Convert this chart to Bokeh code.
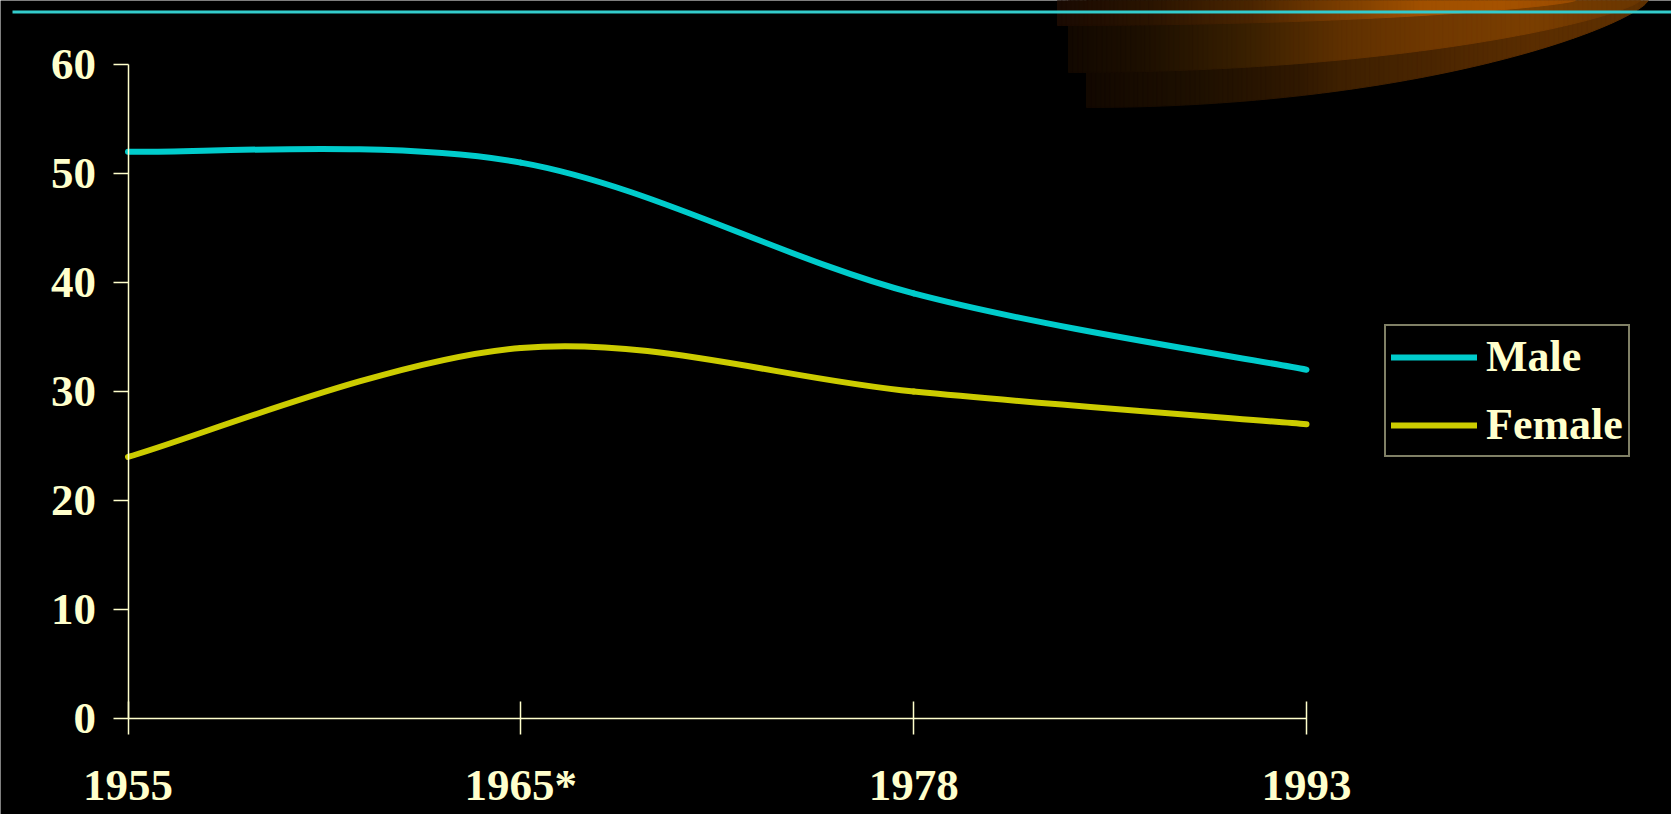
import numpy as np
from bokeh.plotting import figure
from bokeh.models import Range1d, FixedTicker, Legend, LegendItem
from bokeh.embed import file_html
from bokeh.resources import INLINE

# ---- data -----------------------------------------------------------
years = ["1955", "1965*", "1978", "1993"]
male = [52, 51, 39, 32]
female = [24, 34, 30, 27]
y_ticks = [0, 10, 20, 30, 40, 50, 60]

CREAM = "#FFFFCC"
MALE_COLOR = "#00CCCC"
FEMALE_COLOR = "#CCCC00"

# ---- page geometry ----------------------------------------------------
W, H = 1671, 814
X_FIRST, X_LAST = 127.5, 1306.0      # pixel column of first / last category
Y_ZERO, Y_TOP = 718.0, 64.0          # pixel row (from top) of 0 and 60
ux = (X_LAST - X_FIRST) / (len(years) - 1)
uy = (Y_ZERO - Y_TOP) / 60.0

p = figure(
    width=W, height=H,
    x_range=Range1d(-X_FIRST / ux, (len(years) - 1) + (W - X_LAST) / ux),
    y_range=Range1d(-(H - Y_ZERO) / uy, 60 + Y_TOP / uy),
    min_border=0, toolbar_location=None, output_backend="svg",
    background_fill_color="black", border_fill_color="black",
    outline_line_color=None,
)
# pixel coordinate system for the slide decoration
p.extra_x_ranges = {"px": Range1d(0, W)}
p.extra_y_ranges = {"py": Range1d(H, 0)}
p.xgrid.visible = False
p.ygrid.visible = False

# ---- slide decoration: shaded swoosh in the upper right corner ------------
def hex_rgb(h):
    h = h.lstrip("#")
    return tuple(int(h[i:i + 2], 16) for i in (0, 2, 4))

def shade(stops, x):
    xs = [s[0] for s in stops]
    cols = [hex_rgb(s[1]) for s in stops]
    rgb = [int(round(np.interp(x, xs, [c[k] for c in cols]))) for k in range(3)]
    return "#%02x%02x%02x" % tuple(rgb)

bands = [
    # x_left, x_right, depth at left, colour stops
    (1086, 1648, 107, [(1086, "#120800"), (1200, "#1e1000"), (1300, "#301800"),
                       (1340, "#3e2000"), (1430, "#4a2500"), (1530, "#5a2d00"),
                       (1648, "#5e3000")]),
    (1068, 1640, 72, [(1068, "#120800"), (1150, "#1e1000"), (1250, "#3a2000"),
                      (1340, "#5e3000"), (1430, "#703800"), (1530, "#7a3e00"),
                      (1640, "#6a3600")]),
    (1057, 1575, 25, [(1057, "#1a0a02"), (1150, "#2a1400"), (1250, "#4a2500"),
                      (1340, "#7a3d00"), (1420, "#a05000"), (1500, "#a55200"),
                      (1575, "#9a4c00")]),
]
for xl, xr, depth, stops in bands:
    edges = np.linspace(xl, xr, 120)
    u = (edges - xl) / (xr - xl)
    bottom = depth * np.clip(1 - u ** 2, 0, None) ** 0.75
    xs, ys, cs = [], [], []
    for i in range(len(edges) - 1):
        xs.append([edges[i], edges[i + 1], edges[i + 1], edges[i]])
        ys.append([0, 0, bottom[i + 1], bottom[i]])
        cs.append(shade(stops, 0.5 * (edges[i] + edges[i + 1])))
    p.patches(xs, ys, fill_color=cs, line_color=cs, line_width=1,
              x_range_name="px", y_range_name="py")

# thin rule across the top of the slide
p.segment(x0=[12], y0=[11.5], x1=[W], y1=[11.5], line_color="#33CCCC",
          line_width=3, x_range_name="px", y_range_name="py")

# ---- smoothed series (cubic Bezier pieces through each data point) -------
def smooth_pieces(vals):
    n = len(vals)
    pts = [(float(i), float(v)) for i, v in enumerate(vals)]
    out = {k: [] for k in ("x0", "y0", "x1", "y1", "cx0", "cy0", "cx1", "cy1")}
    for i in range(n - 1):
        xp, yp = pts[max(i - 1, 0)]
        xa, ya = pts[i]
        xb, yb = pts[i + 1]
        xn, yn = pts[min(i + 2, n - 1)]
        out["x0"].append(xa); out["y0"].append(ya)
        out["x1"].append(xb); out["y1"].append(yb)
        out["cx0"].append(xa + (xb - xp) / 6); out["cy0"].append(ya + (yb - yp) / 6)
        out["cx1"].append(xb - (xn - xa) / 6); out["cy1"].append(yb - (yn - ya) / 6)
    return out

r_male = p.bezier(**smooth_pieces(male), line_color=MALE_COLOR, line_width=6,
                  line_cap="round")
r_female = p.bezier(**smooth_pieces(female), line_color=FEMALE_COLOR, line_width=6,
                    line_cap="round")

# ---- axes -------------------------------------------------------------------
font = "Liberation Serif"
xa = p.xaxis[0]
xa.fixed_location = 0
xa.bounds = (0, len(years) - 1)
xa.ticker = FixedTicker(ticks=list(range(len(years))))
xa.major_label_overrides = {i: y for i, y in enumerate(years)}
xa.major_tick_in = 17
xa.major_tick_out = 16
xa.major_label_standoff = 25

ya = p.yaxis[0]
ya.fixed_location = 0
ya.bounds = (0, 60)
ya.ticker = FixedTicker(ticks=y_ticks)
ya.major_tick_in = 0
ya.major_tick_out = 15
ya.major_label_standoff = 17

for ax in (xa, ya):
    ax.minor_tick_line_color = None
    ax.axis_line_color = CREAM
    ax.axis_line_width = 1.5
    ax.major_tick_line_color = CREAM
    ax.major_tick_line_width = 1.5
    ax.major_label_text_color = CREAM
    ax.major_label_text_font = font
    ax.major_label_text_font_style = "bold"
    ax.major_label_text_font_size = "45px"

# ---- legend -----------------------------------------------------------------
legend = Legend(
    items=[LegendItem(label="Male", renderers=[r_male]),
           LegendItem(label="Female", renderers=[r_female])],
    location=(1384, H - 457),
    label_text_font=font, label_text_font_style="bold",
    label_text_font_size="44px", label_text_color=CREAM,
    border_line_color=CREAM, border_line_width=2,
    background_fill_color="black", background_fill_alpha=1.0,
    glyph_width=86, glyph_height=48, label_height=48,
    label_standoff=9, padding=5, spacing=17, margin=0,
)
p.add_layout(legend)

open("out.html", "w").write(file_html(p, INLINE))
